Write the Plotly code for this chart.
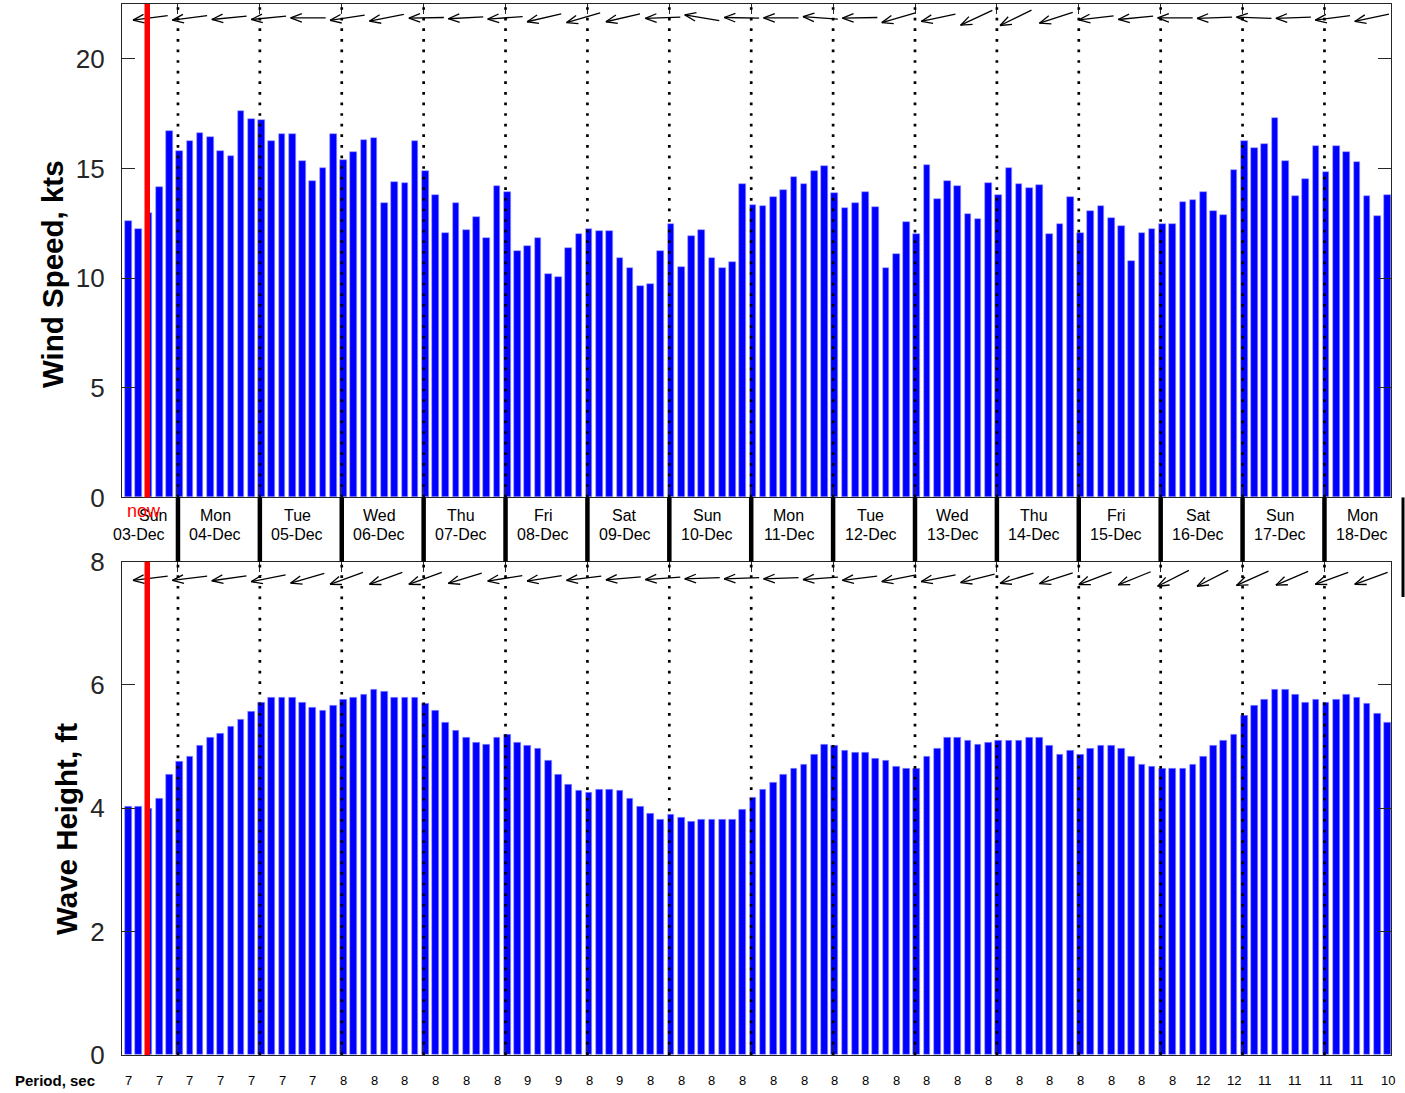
import math
import plotly.graph_objects as go

# ---------------- data ----------------
start_hour = 9.5   # hour (on 03-Dec) of the first forecast step
step_hours = 3
now_hour = 15.0

wind_speed = [12.59,12.23,12.95,14.15,16.71,15.81,16.27,16.63,16.42,15.81,15.59,17.61,17.25,17.2,16.27,16.58,16.56,15.33,14.41,15.02,16.55,15.37,15.77,16.29,16.4,13.42,14.38,14.36,16.24,14.89,13.81,12.04,13.42,12.18,
              12.78,11.82,14.19,13.93,11.25,11.45,11.81,10.18,10.05,11.37,12.02,12.23,12.13,12.13,10.93,10.46,9.66,9.74,11.24,12.46,10.49,11.94,12.21,10.91,10.46,10.72,14.27,13.34,13.27,13.68,14.01,14.59,14.3,14.89,15.1,13.88,13.21,13.44,13.91,13.24,10.46,11.09,12.57,11.99,15.18,
              13.62,14.41,14.2,12.93,12.7,14.32,13.78,15.03,14.27,14.12,14.23,12.0,12.49,13.7,12.08,13.05,13.27,12.72,12.36,10.8,12.05,12.26,12.46,12.46,13.49,13.58,13.93,13.08,12.88,14.92,16.25,15.93,16.11,17.3,15.36,13.73,14.51,16.01,14.84,16.01,15.75,15.28,13.73,12.85,13.81]

wave_height = [4.02,4.02,3.99,4.15,4.55,4.75,4.84,5.01,5.14,5.21,5.33,5.43,5.56,5.72,5.79,5.79,5.79,5.72,5.63,5.59,5.66,5.76,5.79,5.85,5.92,5.89,5.79,5.79,5.79,5.69,5.59,5.39,5.26,5.14,5.07,5.04,5.14,5.2,5.07,5.01,4.97,4.78,
               4.55,4.38,4.28,4.25,4.31,4.31,4.28,4.15,4.02,3.92,3.82,3.89,3.85,3.79,3.82,3.82,3.82,3.82,3.98,4.18,4.31,4.41,4.55,4.64,4.71,4.87,5.04,5.01,4.94,4.91,4.91,4.81,4.78,4.68,4.64,4.64,4.84,4.97,5.14,5.14,5.1,5.04,
               5.07,5.1,5.1,5.1,5.14,5.14,5.01,4.87,4.94,4.87,4.97,5.01,5.01,4.97,4.84,4.71,4.68,4.64,4.64,4.64,4.71,4.84,5.01,5.1,5.2,5.5,5.66,5.76,5.92,5.92,5.85,5.72,5.76,5.72,5.76,5.85,5.79,5.69,5.53,5.39]

periods = [7,7,7,7,7,7,7, 8,8,8,8,8,8, 9,9,8,9,
           8,8,8,8,8,8,8,8,8,8,8,8,8,8,8,8,8,8,
           12,12,11,11,11,11,10]

# arrow directions: degrees below the leftward horizontal
wind_dir_deg = [7.5,7.5,5.5,5.5,0,8.5,11,1,3,4,13,16,13,2,-9.5,-1,0,-4,1,16,12,25,26,18,6.5,5.5,0,2,-2,2,7.5,12]
wave_dir_deg = [7,7,8,11,16,20,20,20,17,9,9,7,5,4,2,2,2,4,7,11,11,14,17,18,21,22,27,27,24,23,20,20]

day_names = ["Sun","Mon","Tue","Wed","Thu","Fri","Sat","Sun","Mon","Tue","Wed","Thu","Fri","Sat","Sun","Mon"]
day_dates = ["03-Dec","04-Dec","05-Dec","06-Dec","07-Dec","08-Dec","09-Dec","10-Dec","11-Dec","12-Dec",
             "13-Dec","14-Dec","15-Dec","16-Dec","17-Dec","18-Dec"]

# ---------------- layout constants ----------------
W, H = 1405, 1093
ML, MR, MT, MB = 122, 14, 4, 38
XMIN, XMAX = 7.6, 379.5
TOP_DOM = [0.5305, 1.0]
BOT_DOM = [0.0, 0.4694]
Y1MAX, Y2MAX = 22.5, 8.0
plot_w = W - ML - MR
plot_h = H - MT - MB
sx = plot_w / (XMAX - XMIN)
sy1 = plot_h * (TOP_DOM[1] - TOP_DOM[0]) / Y1MAX
sy2 = plot_h * (BOT_DOM[1] - BOT_DOM[0]) / Y2MAX

def px_x(px):
    return (px - ML) / plot_w

def px_y(py):
    return (H - MB - py) / plot_h

hours = [start_hour + step_hours * i for i in range(len(wind_speed))]
BLUE = "#0000ff"
FONT = "Liberation Sans, Arial, sans-serif"
AX = "#262626"

fig = go.Figure()
fig.add_trace(go.Bar(x=hours, y=wind_speed, width=1.95, marker=dict(color=BLUE, line=dict(color="#9a9aff", width=0.6)),
                     xaxis="x", yaxis="y", showlegend=False, hoverinfo="x+y"))
fig.add_trace(go.Bar(x=hours, y=wave_height, width=1.95, marker=dict(color=BLUE, line=dict(color="#9a9aff", width=0.6)),
                     xaxis="x2", yaxis="y2", showlegend=False, hoverinfo="x+y"))

# ---------------- direction arrows ----------------
ARROW_X0, ARROW_STEP = 10.82, 11.55
L, BARB, BANG = 35.0, 12.0, 21.0

def arrow_paths(dirs, ycenter, sy):
    xs, ys = [], []
    for k, d in enumerate(dirs):
        r = math.radians(d)
        hx = ARROW_X0 + ARROW_STEP * k
        hy = ycenter - (L / 2) * math.sin(r) / sy
        ux, uy = -math.cos(r), math.sin(r)   # screen px direction (x right, y down)
        tx = hx - L * ux / sx
        ty = hy + L * uy / sy
        xs += [tx, hx, None]
        ys += [ty, hy, None]
        for s in (1, -1):
            a = math.radians(BANG) * s
            bx = -(ux * math.cos(a) - uy * math.sin(a))
            by = -(ux * math.sin(a) + uy * math.cos(a))
            xs += [hx, hx + BARB * bx / sx, None]
            ys += [hy, hy - BARB * by / sy, None]
    return xs, ys

ax1, ay1 = arrow_paths(wind_dir_deg, 21.87, sy1)
ax2, ay2 = arrow_paths(wave_dir_deg, 7.73, sy2)
fig.add_trace(go.Scatter(x=ax1, y=ay1, mode="lines", line=dict(color="black", width=1.3),
                         xaxis="x", yaxis="y", showlegend=False, hoverinfo="skip"))
fig.add_trace(go.Scatter(x=ax2, y=ay2, mode="lines", line=dict(color="black", width=1.3),
                         xaxis="x2", yaxis="y2", showlegend=False, hoverinfo="skip"))

# ---------------- shapes ----------------
day_bounds = [24 * d for d in range(1, len(day_names))]
shapes = []
for xb in day_bounds:
    for xr, yr in (("x", "y domain"), ("x2", "y2 domain")):
        shapes.append(dict(type="line", xref=xr, yref=yr, x0=xb, x1=xb, y0=0, y1=1,
                           line=dict(color="black", width=2.7, dash="2.7px,7.9px")))
    shapes.append(dict(type="line", xref="x", yref="paper", x0=xb, x1=xb, y0=BOT_DOM[1], y1=TOP_DOM[0],
                       line=dict(color="black", width=4.5)))
for xr, yr in (("x", "y domain"), ("x2", "y2 domain")):
    shapes.append(dict(type="line", xref=xr, yref=yr, x0=now_hour, x1=now_hour, y0=0, y1=1,
                       line=dict(color="#ff0000", width=5.5)))
shapes.append(dict(type="line", xref="paper", yref="paper", x0=px_x(1403), x1=px_x(1403),
                   y0=px_y(597), y1=TOP_DOM[0], line=dict(color="black", width=3)))

# ---------------- annotations ----------------
ann = []
for d, (nm, dt) in enumerate(zip(day_names, day_dates)):
    lx = 24 * d + 11
    name_x, date_x = lx, lx
    if d == 0:   # first (partial) day: labels pushed right of the axis edge
        name_x, date_x = XMIN + 30.5 / sx, XMIN + 16.5 / sx
    ann.append(dict(x=name_x, xref="x", y=px_y(515.7), yref="paper", text=nm, showarrow=False,
                    font=dict(size=16, color="black", family=FONT), xanchor="center", yanchor="middle"))
    ann.append(dict(x=date_x, xref="x", y=px_y(534.3), yref="paper", text=dt, showarrow=False,
                    font=dict(size=16, color="black", family=FONT), xanchor="center", yanchor="middle"))
ann.append(dict(x=XMIN + 22 / sx, xref="x", y=px_y(511), yref="paper", text="now", showarrow=False,
                font=dict(size=18, color="#ff0000", family=FONT), xanchor="center", yanchor="middle"))
ann.append(dict(x=px_x(54.5), xref="paper", y=px_y(1080), yref="paper",
                text="<b>Period, sec</b>", showarrow=False, font=dict(size=15, color="black", family=FONT),
                xanchor="center", yanchor="middle"))
for j, p in enumerate(periods):
    ann.append(dict(x=hours[3 * j], xref="x2", y=px_y(1080), yref="paper", text=str(p),
                    showarrow=False, font=dict(size=13, color="black", family=FONT),
                    xanchor="center", yanchor="middle"))
# y-axis titles
ann.append(dict(x=px_x(52), xref="paper", y=px_y(274), yref="paper", text="<b>Wind Speed, kts</b>",
                textangle=-90, showarrow=False, font=dict(size=29.5, color="black", family=FONT),
                xanchor="center", yanchor="middle"))
ann.append(dict(x=px_x(66), xref="paper", y=px_y(829), yref="paper", text="<b>Wave Height, ft</b>",
                textangle=-90, showarrow=False, font=dict(size=29.5, color="black", family=FONT),
                xanchor="center", yanchor="middle"))

xcommon = dict(range=[XMIN, XMAX], showgrid=False, zeroline=False, showline=True, linecolor=AX, linewidth=1.2,
               mirror="ticks", ticks="inside", ticklen=10, tickcolor=AX, tickvals=day_bounds,
               showticklabels=False, automargin=False)
ycommon = dict(showgrid=False, zeroline=False, showline=True, linecolor=AX, linewidth=1.2, mirror="ticks",
               ticks="inside", ticklen=13, tickcolor=AX, tickfont=dict(size=26, color=AX, family=FONT),
               ticklabelstandoff=11, automargin=False)

fig.update_layout(
    width=W, height=H, margin=dict(l=ML, r=MR, t=MT, b=MB, autoexpand=False),
    plot_bgcolor="white", paper_bgcolor="white", bargap=0,
    xaxis=dict(domain=[0, 1], anchor="y", **xcommon),
    xaxis2=dict(domain=[0, 1], anchor="y2", **xcommon),
    yaxis=dict(domain=TOP_DOM, anchor="x", range=[0, Y1MAX], tickvals=[0, 5, 10, 15, 20], **ycommon),
    yaxis2=dict(domain=BOT_DOM, anchor="x2", range=[0, Y2MAX], tickvals=[0, 2, 4, 6, 8], **ycommon),
    shapes=shapes, annotations=ann,
)

fig.write_html("out.html", config={"displayModeBar": False},
               post_script="document.body.style.margin='0';document.body.style.padding='0';")
